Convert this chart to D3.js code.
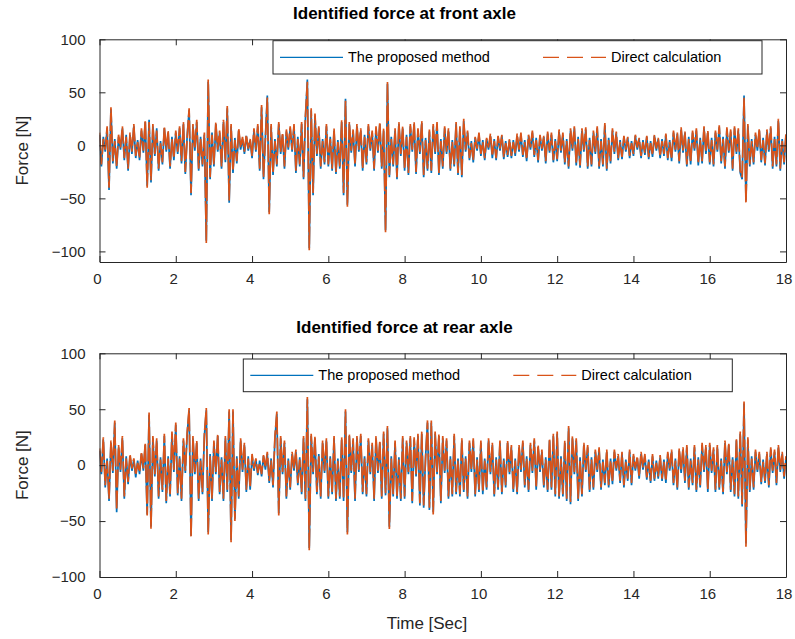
<!DOCTYPE html>
<html>
<head>
<meta charset="utf-8">
<script src="https://cdn.jsdelivr.net/npm/d3@7"></script>
<style>
  html, body { margin: 0; padding: 0; background: #fff; }
  svg { display: block; font-family: "Liberation Sans", Arial, Helvetica, sans-serif; }
</style>
</head>
<body>
<svg id="chart" width="795" height="639"></svg>
<script>
// Sampling step of the force records [s]
const sampleStep = 0.05;

const xTicks = [0, 2, 4, 6, 8, 10, 12, 14, 16, 18];
const yTicks = [-100, -50, 0, 50, 100];

const seriesNames = ["The proposed method", "Direct calculation"];

// Front axle force [N], one row per second
const frontProposed = [
  10,-20,8,-6,16,-42,34,-17,6,-22,8,-4,16,-14,10,-24,10,-8,18,-12,
  5,-14,14,-7,22,-38,24,-35,18,-10,16,-24,4,-18,16,-6,12,-22,8,-14,
  12,-8,16,-17,20,-27,10,33,-47,18,-5,22,-24,8,-20,10,-90,60,-32,12,
  -20,20,-6,12,-22,22,-16,35,-54,18,-26,7,-17,14,-4,6,-8,9,-5,5,
  -12,14,-6,18,-24,36,-32,8,47,-63,18,-28,6,-20,20,-8,10,-22,13,-4,
  16,-6,18,-26,8,-20,20,-32,26,62,-97,33,-47,28,-10,16,-22,6,-18,18,
  -20,8,-24,14,-27,5,-22,22,-47,44,-56,20,-7,13,-20,18,-6,14,-24,10,
  -18,18,-5,12,-24,16,-7,20,-22,14,-80,58,-30,8,-20,14,-32,20,-10,16,
  -24,10,-28,18,-6,20,-27,14,-8,21,-30,7,-24,13,-26,18,-8,20,-28,6,
  -22,16,-8,14,-24,5,-20,20,-28,16,-30,23,-6,12,-14,4,-16,7,-5,10,
  -10,5,-14,6,-4,9,-12,6,-14,8,-5,9,-13,4,-11,5,-12,5,-10,9,
  -6,10,-11,5,-15,9,-4,12,-11,7,-16,9,-5,8,-17,11,-7,10,-16,6,
  -15,13,-7,10,-18,6,-22,14,-5,16,-19,8,-21,14,-6,15,-22,7,-20,12,
  -8,16,-22,6,-20,19,-24,7,-17,14,-8,11,-14,5,-13,8,-6,7,-12,4,
  -10,9,-4,6,-12,5,-9,8,-13,4,-11,9,-5,6,-12,6,-10,10,-14,5,
  -15,12,-6,11,-17,15,-7,12,-20,8,-18,12,-5,14,-19,7,-17,16,-8,12,
  -18,7,-20,12,-6,17,-17,8,-22,15,-7,13,-24,16,-8,14,-26,-32,47,-52,
  18,-20,6,-18,10,-5,14,-16,7,-19,13,-6,16,-22,8,-20,23,-24,6,-18,
  10
];

const frontDirect = [
  12,-18,6,-4,18,-40,36,-15,4,-20,10,-2,18,-12,8,-22,12,-6,20,-10,
  3,-12,16,-5,24,-40,22,-33,20,-8,14,-22,2,-16,18,-4,14,-20,6,-12,
  14,-6,18,-15,22,-25,8,35,-45,20,-3,24,-22,6,-18,12,-92,62,-30,10,
  -18,22,-4,14,-20,24,-14,37,-52,20,-24,5,-15,16,-2,8,-6,10,-3,6,
  -10,16,-4,20,-22,38,-30,6,45,-65,20,-26,4,-18,22,-6,12,-20,15,-2,
  18,-4,20,-24,6,-18,22,-30,28,60,-99,35,-45,30,-8,18,-20,4,-16,20,
  -18,6,-22,16,-25,3,-20,24,-45,42,-58,22,-5,15,-18,20,-4,16,-22,8,
  -16,20,-3,14,-22,18,-5,22,-20,16,-82,60,-28,6,-18,16,-30,22,-8,18,
  -22,8,-26,20,-4,22,-25,16,-6,23,-28,5,-22,15,-24,20,-6,22,-26,4,
  -20,18,-6,16,-22,3,-18,22,-26,18,-28,25,-4,14,-12,2,-14,8,-3,12,
  -8,3,-12,7,-2,11,-10,4,-12,9,-3,10,-11,2,-9,6,-10,3,-8,11,
  -4,12,-9,3,-13,10,-2,14,-9,5,-14,10,-3,9,-15,13,-5,12,-14,4,
  -13,15,-5,12,-16,4,-20,16,-3,18,-17,6,-19,16,-4,17,-20,5,-18,14,
  -6,18,-20,4,-18,21,-22,5,-15,16,-6,13,-12,3,-11,9,-4,8,-10,2,
  -8,10,-2,7,-10,3,-7,9,-11,2,-9,10,-3,7,-10,4,-8,11,-12,3,
  -13,14,-4,12,-15,17,-5,13,-18,6,-16,14,-3,16,-17,5,-15,18,-6,14,
  -16,5,-18,14,-4,19,-15,6,-20,17,-5,15,-22,18,-6,16,-24,-30,45,-55,
  20,-18,4,-16,12,-3,16,-14,5,-17,15,-4,18,-20,6,-18,25,-22,4,-16,
  12
];

// Rear axle force [N], one row per second
const rearProposed = [
  13,-8,23,-20,6,-32,20,-7,38,-42,16,-6,24,-30,8,-17,8,-5,5,-11,
  4,-8,10,-5,18,-44,45,-55,24,-10,22,-30,7,-24,26,-34,8,-28,28,-6,
  36,-27,8,-32,22,-7,28,49,-63,24,-8,20,-32,6,-26,26,49,-60,10,-32,
  20,-8,26,-26,7,-32,24,-24,48,-67,48,-48,8,-30,22,-6,18,-24,8,-22,
  8,-5,5,-9,4,-10,8,-4,10,-16,6,-20,24,46,-43,24,-8,20,-30,6,
  -22,10,-5,12,-18,7,-26,24,-32,59,-74,26,-8,24,-26,10,-30,20,-7,22,
  -30,8,-26,24,-32,6,-30,23,-32,48,-60,26,-7,22,-32,24,-6,26,-26,8,
  -28,22,-8,18,-32,24,-7,20,-30,28,-27,33,-55,8,-28,20,-30,7,-32,24,
  -30,20,-8,24,-34,23,-10,26,-36,28,-38,8,38,-40,38,-42,28,-8,26,-34,
  24,-7,22,-30,8,-28,26,-26,6,-28,22,-24,8,-30,20,-6,22,-28,7,-24,
  20,-26,6,-22,22,-8,18,-28,7,-22,20,-26,6,-20,20,-8,16,-24,6,-26,
  16,-6,20,-20,8,-24,18,-7,22,-22,16,-6,12,-20,7,-24,22,-22,26,-28,
  28,-30,8,-28,20,-32,33,-35,24,-8,22,-32,7,-28,18,-6,16,-24,7,-22,
  12,-6,14,-22,5,-18,12,-20,6,-17,12,-5,8,-16,10,-20,5,-14,12,-18,
  8,-5,6,-12,10,-4,8,-13,5,-16,8,-14,4,-12,7,-14,5,-16,10,-5,
  12,-18,6,-22,13,-7,14,-16,16,-22,6,-18,16,-24,7,-20,18,-6,16,-24,
  18,-7,14,-24,16,-22,6,-26,20,-8,18,-24,7,-28,22,-30,28,-37,55,-70,
  23,-24,8,-22,12,-6,10,-17,5,-16,10,-20,14,-7,12,-18,16,-6,10,-12,
  6
];

const rearDirect = [
  15,-6,25,-18,4,-30,22,-5,40,-40,18,-4,26,-28,6,-15,10,-3,6,-9,
  2,-6,12,-3,20,-45,47,-57,26,-8,24,-28,5,-22,28,-32,6,-26,30,-4,
  38,-25,6,-30,24,-5,30,51,-65,26,-6,22,-30,4,-24,28,51,-62,8,-30,
  22,-6,28,-24,5,-30,26,-22,50,-69,50,-50,6,-28,24,-4,20,-22,6,-20,
  10,-3,6,-7,2,-8,9,-2,12,-14,4,-18,26,48,-45,26,-6,22,-28,4,
  -20,12,-3,14,-16,5,-24,26,-30,61,-76,28,-6,26,-24,8,-28,22,-5,24,
  -28,6,-24,26,-30,4,-28,25,-30,50,-62,28,-5,24,-30,26,-4,28,-24,6,
  -26,24,-6,20,-30,26,-5,22,-28,30,-25,35,-57,6,-26,22,-28,5,-30,26,
  -28,22,-6,26,-32,25,-8,28,-34,30,-36,6,40,-38,40,-44,30,-6,28,-32,
  26,-5,24,-28,6,-26,28,-24,4,-26,24,-22,6,-28,22,-4,24,-26,5,-22,
  22,-24,4,-20,24,-6,20,-26,5,-20,22,-24,4,-18,22,-6,18,-22,4,-24,
  18,-4,22,-18,6,-22,20,-5,24,-20,18,-4,14,-18,5,-22,24,-20,28,-26,
  30,-28,6,-26,22,-30,35,-33,26,-6,24,-30,5,-26,20,-4,18,-22,5,-20,
  14,-4,16,-20,3,-16,14,-18,4,-15,14,-3,10,-14,12,-18,3,-12,14,-16,
  10,-3,8,-10,12,-2,10,-11,3,-14,10,-12,2,-10,9,-12,3,-14,12,-3,
  14,-16,4,-20,15,-5,16,-14,18,-20,4,-16,18,-22,5,-18,20,-4,18,-22,
  20,-5,16,-22,18,-20,4,-24,22,-6,20,-22,5,-26,24,-28,30,-35,57,-73,
  25,-22,6,-20,14,-4,12,-15,3,-14,12,-18,16,-5,14,-16,18,-4,12,-10,
  8
];

const colors = ["#0072BD", "#D95319"];
const axisColor = "#262626";

const svg = d3.select("#chart");

const x = d3.scaleLinear().domain([0, 18]).range([99.5, 786]);

const panels = [
  { title: "Identified force at front axle", yDomain: [-110, 100], yRange: [262, 39.3],
    series: [frontProposed, frontDirect], legend: { x: 273, y: 40.7, w: 489, h: 33.3 } },
  { title: "Identified force at rear axle", yDomain: [-100, 100], yRange: [577, 353.3],
    series: [rearProposed, rearDirect], legend: { x: 243.3, y: 359, w: 489, h: 32.7 } }
];

panels.forEach((p, pi) => {
  const y = d3.scaleLinear().domain(p.yDomain).range(p.yRange);
  const g = svg.append("g");
  const [x0, x1] = x.range();
  const yb = p.yRange[0], yt = p.yRange[1];

  const clipId = "clip" + pi;
  svg.append("clipPath").attr("id", clipId)
    .append("rect").attr("x", x0).attr("y", yt).attr("width", x1 - x0).attr("height", yb - yt);

  const line = d3.line()
    .x((d, i) => x(i * sampleStep))
    .y(d => y(d));

  const plot = g.append("g").attr("clip-path", `url(#${clipId})`);
  plot.append("path")
    .datum(p.series[0])
    .attr("d", line)
    .attr("fill", "none")
    .attr("stroke", colors[0])
    .attr("stroke-width", 1.7);
  plot.append("path")
    .datum(p.series[1])
    .attr("d", line)
    .attr("fill", "none")
    .attr("stroke", colors[1])
    .attr("stroke-width", 1.7)
    .attr("stroke-dasharray", "18,3");

  // Axes with inward ticks on all four sides
  const tk = 6;
  const styleAxis = sel => {
    sel.selectAll(".domain").attr("stroke", axisColor).attr("stroke-width", 1);
    sel.selectAll(".tick line").attr("stroke", axisColor).attr("stroke-width", 1);
    sel.selectAll(".tick text").attr("fill", axisColor)
      .style("font-size", "15px").style("font-family", "Liberation Sans, Arial, sans-serif");
  };

  g.append("g").attr("transform", `translate(0,${yb})`)
    .call(d3.axisBottom(x).tickValues(xTicks).tickSizeInner(-tk).tickSizeOuter(0).tickPadding(11))
    .call(styleAxis)
    .selectAll(".tick text").attr("dx", -2.5);
  g.append("g").attr("transform", `translate(0,${yt})`)
    .call(d3.axisTop(x).tickValues(xTicks).tickSizeInner(-tk).tickSizeOuter(0).tickFormat(""))
    .call(styleAxis);
  g.append("g").attr("transform", `translate(${x0},0)`)
    .call(d3.axisLeft(y).tickValues(yTicks).tickSizeInner(-tk).tickSizeOuter(0).tickPadding(14))
    .call(styleAxis);
  g.append("g").attr("transform", `translate(${x1},0)`)
    .call(d3.axisRight(y).tickValues(yTicks).tickSizeInner(-tk).tickSizeOuter(0).tickFormat(""))
    .call(styleAxis);

  // Title
  g.append("text")
    .attr("x", 404.5)
    .attr("y", yt - 20)
    .attr("text-anchor", "middle")
    .style("font-size", "17px")
    .style("font-weight", "bold")
    .attr("fill", "#000")
    .text(p.title);

  // Y label
  g.append("text")
    .attr("transform", `translate(28,${(yb + yt) / 2}) rotate(-90)`)
    .attr("text-anchor", "middle")
    .style("font-size", "17px")
    .attr("fill", axisColor)
    .text("Force [N]");

  // Legend
  const L = p.legend;
  const lg = g.append("g");
  lg.append("rect").attr("x", L.x).attr("y", L.y).attr("width", L.w).attr("height", L.h)
    .attr("fill", "#fff").attr("stroke", axisColor).attr("stroke-width", 1);
  const ly = L.y + L.h / 2;
  const items = [
    { x: L.x + 7, dash: null },
    { x: L.x + 270, dash: "16,8" }
  ];
  items.forEach((it, k) => {
    lg.append("line")
      .attr("x1", it.x).attr("x2", it.x + 63)
      .attr("y1", ly).attr("y2", ly)
      .attr("stroke", colors[k]).attr("stroke-width", 1.2)
      .attr("stroke-dasharray", it.dash);
    lg.append("text")
      .attr("x", it.x + 68).attr("y", ly + 5)
      .style("font-size", "14.5px")
      .attr("fill", "#000")
      .text(seriesNames[k]);
  });
});

svg.append("text")
  .attr("x", 427)
  .attr("y", 629)
  .attr("text-anchor", "middle")
  .style("font-size", "17px")
  .attr("fill", axisColor)
  .text("Time [Sec]");
</script>
</body>
</html>
